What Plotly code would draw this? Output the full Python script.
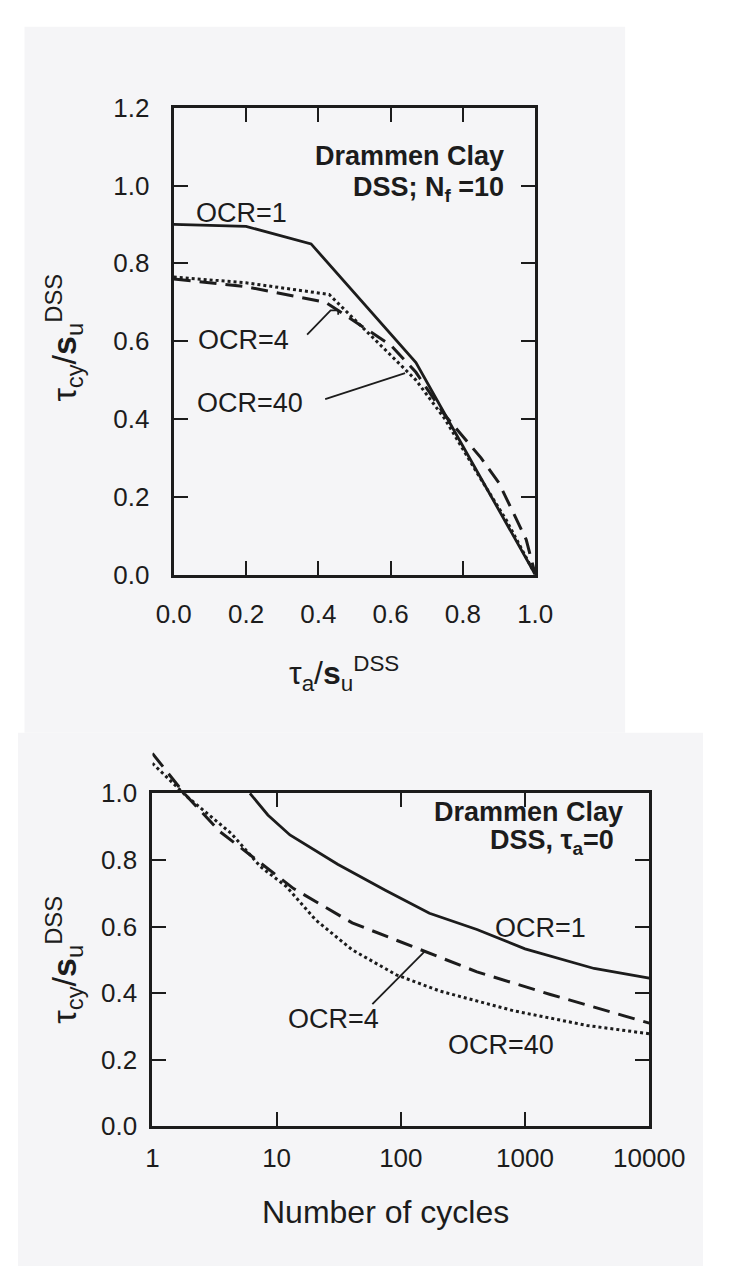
import plotly.graph_objects as go

W, H = 739, 1281

# ---- upper panel: tau_cy/su vs tau_a/su (N_f = 10) ----
ta_ocr1 = [0.0, 0.2, 0.38, 0.67, 0.8, 1.0]
tcy_ocr1 = [0.90, 0.895, 0.85, 0.545, 0.33, 0.0]

ta_ocr4 = [0.0, 0.2, 0.42, 0.6, 0.67, 0.75, 0.85, 0.9, 0.975, 1.0]
tcy_ocr4 = [0.76, 0.74, 0.70, 0.59, 0.52, 0.41, 0.30, 0.235, 0.09, 0.0]

ta_ocr40 = [0.0, 0.2, 0.43, 0.59, 0.67, 0.75, 0.84, 0.92, 1.0]
tcy_ocr40 = [0.765, 0.75, 0.72, 0.575, 0.50, 0.40, 0.26, 0.14, 0.0]

# leader lines from labels to curves
lead4_x = [0.369, 0.434, 0.455, 0.455]
lead4_y = [0.617, 0.679, 0.679, 0.668]
lead40_x = [0.419, 0.640]
lead40_y = [0.451, 0.518]

top_xticks = [0.0, 0.2, 0.4, 0.6, 0.8, 1.0]
top_yticks = [0.0, 0.2, 0.4, 0.6, 0.8, 1.0, 1.2]

# ---- lower panel: tau_cy/su vs number of cycles (tau_a = 0) ----
n_ocr1 = [6.1, 8.5, 12.8, 31, 75, 170, 410, 1000, 3600, 10000]
c_ocr1 = [1.0, 0.935, 0.875, 0.787, 0.709, 0.640, 0.591, 0.533, 0.474, 0.445]

n_ocr4 = [1, 1.8, 3.5, 6.9, 13.7, 40.6, 148, 410, 1600, 10000]
c_ocr4 = [1.12, 1.0, 0.885, 0.80, 0.714, 0.611, 0.528, 0.464, 0.396, 0.31]

n_ocr40 = [1, 1.9, 4.3, 7.4, 12, 20.6, 40.6, 92, 207, 810, 3150, 10000]
c_ocr40 = [1.09, 0.99, 0.88, 0.78, 0.72, 0.62, 0.53, 0.455, 0.406, 0.347, 0.303, 0.278]

leadN_x = [59, 158]
leadN_y = [0.367, 0.528]

bot_xticks = [1, 10, 100, 1000, 10000]
bot_yticks = [0.0, 0.2, 0.4, 0.6, 0.8, 1.0]

FONT = "Liberation Sans, Arial, sans-serif"
INK = "#1c1c1c"


def px_x(p):
    return p / W


def px_y(p):
    return 1 - p / H


# panel frames in pixels (left, right, top, bottom)
top_box = (168, 558, 95, 573)
bot_box = (145, 681, 797, 1138)

top_xd = [px_x(top_box[0]), px_x(top_box[1])]
top_yd = [px_y(top_box[3]), px_y(top_box[2])]
bot_xd = [px_x(bot_box[0]), px_x(bot_box[1])]
bot_yd = [px_y(bot_box[3]), px_y(bot_box[2])]
# taller twin of the lower panel so curves can run above 1.0
ext_top = 1.2
bot_yd_ext = [bot_yd[0], bot_yd[0] + (bot_yd[1] - bot_yd[0]) * ext_top]

fig = go.Figure()

solid = dict(color=INK, width=2.8)
dashed = dict(color=INK, width=3, dash="17px,9px")
dotted = dict(color=INK, width=3, dash="dot")
thin = dict(color=INK, width=1.8)

fig.add_trace(go.Scatter(x=ta_ocr1, y=tcy_ocr1, mode="lines", line=solid, xaxis="x", yaxis="y"))
fig.add_trace(go.Scatter(x=ta_ocr4, y=tcy_ocr4, mode="lines", line=dashed, xaxis="x", yaxis="y"))
fig.add_trace(go.Scatter(x=ta_ocr40, y=tcy_ocr40, mode="lines", line=dotted, xaxis="x", yaxis="y"))
fig.add_trace(go.Scatter(x=lead4_x, y=lead4_y, mode="lines", line=thin, xaxis="x", yaxis="y"))
fig.add_trace(go.Scatter(x=lead40_x, y=lead40_y, mode="lines", line=thin, xaxis="x", yaxis="y"))

# empty trace to instantiate the framed lower axes
fig.add_trace(go.Scatter(x=[], y=[], mode="lines", xaxis="x2", yaxis="y2"))

fig.add_trace(go.Scatter(x=n_ocr1, y=c_ocr1, mode="lines", line=solid, xaxis="x3", yaxis="y3"))
fig.add_trace(go.Scatter(x=n_ocr4, y=c_ocr4, mode="lines", line=dashed, xaxis="x3", yaxis="y3"))
fig.add_trace(go.Scatter(x=n_ocr40, y=c_ocr40, mode="lines", line=dotted, xaxis="x3", yaxis="y3"))
fig.add_trace(go.Scatter(x=leadN_x, y=leadN_y, mode="lines", line=thin, xaxis="x3", yaxis="y3"))

frame = dict(
    showline=True, linewidth=3, linecolor=INK, mirror="ticks",
    ticks="inside", ticklen=14, tickwidth=2, tickcolor=INK,
    showgrid=False, zeroline=False,
    tickfont=dict(family=FONT, size=26, color=INK),
)

fig.update_layout(
    width=W, height=H,
    margin=dict(l=0, r=0, t=0, b=0),
    paper_bgcolor="white",
    plot_bgcolor="rgba(0,0,0,0)",
    showlegend=False,
    xaxis=dict(frame, domain=top_xd, anchor="y", range=[0, 1.0],
               tickvals=top_xticks, ticktext=[f"{v:.1f}" for v in top_xticks],
               ticklabelstandoff=14),
    yaxis=dict(frame, domain=top_yd, anchor="x", range=[0, 1.2],
               tickvals=top_yticks, ticktext=[f"{v:.1f}" for v in top_yticks],
               ticklabelstandoff=16),
    xaxis2=dict(frame, domain=bot_xd, anchor="y2", type="log", range=[0, 4],
                tickvals=bot_xticks, ticktext=[str(v) for v in bot_xticks],
                ticklabelstandoff=6),
    yaxis2=dict(frame, domain=bot_yd, anchor="x2", range=[0, 1.0],
                tickvals=bot_yticks, ticktext=[f"{v:.1f}" for v in bot_yticks],
                ticklabelstandoff=7),
    xaxis3=dict(domain=bot_xd, anchor="y3", type="log", range=[0, 4], visible=False),
    yaxis3=dict(domain=bot_yd_ext, anchor="x3", range=[0, ext_top], visible=False),
)

# scanned page tint
page = "#f5f5f7"
fig.add_shape(type="rect", xref="paper", yref="paper", layer="below",
              x0=px_x(7), x1=px_x(655), y0=px_y(735), y1=px_y(12),
              line=dict(width=0), fillcolor=page)
fig.add_shape(type="rect", xref="paper", yref="paper", layer="below",
              x0=0, x1=1, y0=0, y1=px_y(735),
              line=dict(width=0), fillcolor=page)

txt = dict(family=FONT, size=27, color=INK)
bold = dict(family=FONT, size=27, color=INK)


def note(text, x, y, xref, yref, xanchor="left", font=txt, **kw):
    fig.add_annotation(text=text, x=x, y=y, xref=xref, yref=yref,
                       xanchor=xanchor, yanchor="middle", showarrow=False,
                       font=font, **kw)


# upper panel labels
note("OCR=1", 0.055, 0.93, "x", "y")
note("OCR=4", 0.062, 0.603, "x", "y")
note("OCR=40", 0.059, 0.442, "x", "y")
note("<b>Drammen Clay</b>", 0.92, 1.077, "x", "y", xanchor="right", font=bold)
note("<b>DSS; N<sub>f</sub> =10</b>", 0.92, 0.99, "x", "y", xanchor="right", font=bold)

# lower panel labels (log axis positions in decades)
note("OCR=1", 2.745, 0.596, "x2", "y2")
note("OCR=4", 1.077, 0.323, "x2", "y2")
note("OCR=40", 2.362, 0.244, "x2", "y2")
note("<b>Drammen Clay</b>", 3.808, 0.945, "x2", "y2", xanchor="right", font=bold)
note("<b>DSS, τ<sub>a</sub>=0</b>", 3.734, 0.855, "x2", "y2", xanchor="right", font=bold)

# axis titles
xtitle_font = dict(family=FONT, size=32, color=INK)
ytitle_font = dict(family=FONT, size=34, color=INK)
ytitle = "τ<sub>cy</sub>/<b>s</b><sub>u</sub><sup>DSS</sup>"
note("τ<sub>a</sub>/<b>s</b><sub>u</sub><sup>DSS</sup>", px_x(352), px_y(674), "paper", "paper",
     xanchor="center", font=xtitle_font)
note("Number of cycles", px_x(397), px_y(1226), "paper", "paper",
     xanchor="center", font=xtitle_font)
note(ytitle, px_x(50), px_y(330), "paper", "paper", xanchor="center",
     font=ytitle_font, textangle=-90)
note(ytitle, px_x(50), px_y(967), "paper", "paper", xanchor="center",
     font=ytitle_font, textangle=-90)

fig.write_html("out.html")
